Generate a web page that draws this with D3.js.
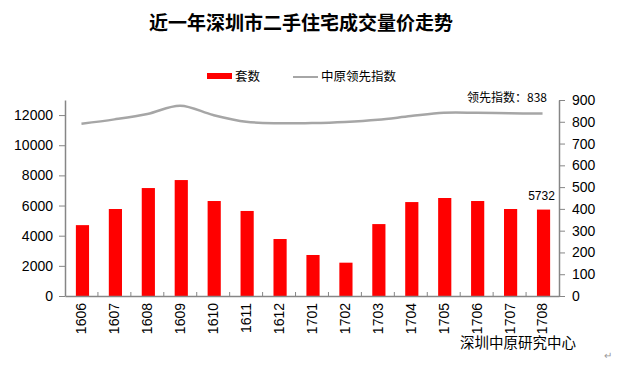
<!DOCTYPE html>
<html>
<head>
<meta charset="utf-8">
<script src="https://cdn.jsdelivr.net/npm/d3@7"></script>
<style>
    body { margin: 0; background: #fff; }
    svg { display: block; }
    .num { font-family: "Liberation Sans", Arial, sans-serif; }
    .cjk { font-family: "Noto Sans CJK SC", sans-serif; }
</style>
</head>
<body>
<div id="container"></div>
<script>
// 数据
const months = ['1606', '1607', '1608', '1609', '1610', '1611', '1612', '1701',
    '1702', '1703', '1704', '1705', '1706', '1707', '1708'];
const sales = [4700, 5770, 7160, 7690, 6300, 5640, 3780, 2720,
    2210, 4770, 6230, 6500, 6300, 5770, 5732];
const index = [791, 811, 836, 874, 831, 800, 793, 794,
    799, 809, 826, 841, 841, 839, 838];
const leftTicks = [0, 2000, 4000, 6000, 8000, 10000, 12000];
const rightTicks = [0, 100, 200, 300, 400, 500, 600, 700, 800, 900];

const width = 625;
const height = 373;
const margin = {left: 65, right: 66, top: 100, bottom: 77};
const axisColor = '#868686';
const baseY = height - margin.bottom;

const svg = d3.select('#container')
    .append('svg')
    .attr('width', width)
    .attr('height', height);

// 标题
svg.append('text')
    .attr('class', 'cjk')
    .attr('x', 301)
    .attr('y', 30)
    .attr('text-anchor', 'middle')
    .attr('font-size', 19)
    .attr('font-weight', 'bold')
    .attr('fill', '#000')
    .text('近一年深圳市二手住宅成交量价走势');

// 图例
svg.append('rect')
    .attr('x', 207).attr('y', 73)
    .attr('width', 25).attr('height', 6)
    .attr('fill', '#ff0000');
svg.append('text')
    .attr('class', 'cjk')
    .attr('x', 235).attr('y', 81)
    .attr('font-size', 12.5)
    .text('套数');
svg.append('line')
    .attr('x1', 293).attr('x2', 318)
    .attr('y1', 77).attr('y2', 77)
    .attr('stroke', '#a6a6a6')
    .attr('stroke-width', 2);
svg.append('text')
    .attr('class', 'cjk')
    .attr('x', 321).attr('y', 81)
    .attr('font-size', 12.5)
    .text('中原领先指数');

// 比例尺
const xScale = d3.scaleBand().domain(months).range([margin.left, width - margin.right]);
const yLeft = d3.scaleLinear().domain([0, 13000]).range([baseY, margin.top]);
const yRight = d3.scaleLinear().domain([0, 900]).range([baseY, margin.top]);

// 柱子
const barW = xScale.bandwidth() * 0.4;
svg.selectAll('.bar')
    .data(sales)
    .enter()
    .append('rect')
    .attr('class', 'bar')
    .attr('x', (d, i) => xScale(months[i]) + (xScale.bandwidth() - barW) / 2 + 1)
    .attr('y', d => yLeft(d))
    .attr('width', barW)
    .attr('height', d => baseY - yLeft(d))
    .attr('fill', '#ff0000');

// 折线
const line = d3.line()
    .x((d, i) => xScale(months[i]) + xScale.bandwidth() / 2)
    .y(d => yRight(d))
    .curve(d3.curveCatmullRom);
svg.append('path')
    .datum(index)
    .attr('d', line)
    .attr('fill', 'none')
    .attr('stroke', '#a6a6a6')
    .attr('stroke-width', 2.5);

// 左轴
const yAxisL = svg.append('g')
    .attr('transform', `translate(${margin.left},0)`)
    .call(d3.axisLeft(yLeft).tickValues(leftTicks).tickFormat(d3.format('d'))
        .tickSize(6).tickPadding(6).tickSizeOuter(0));
// 右轴
const yAxisR = svg.append('g')
    .attr('transform', `translate(${width - margin.right},0)`)
    .call(d3.axisRight(yRight).tickValues(rightTicks).tickFormat(d3.format('d'))
        .tickSize(6).tickPadding(7).tickSizeOuter(0));
// 底轴
const xAxisG = svg.append('g')
    .attr('transform', `translate(0,${baseY})`)
    .call(d3.axisBottom(xScale).tickSize(0).tickPadding(0));

[yAxisL, yAxisR, xAxisG].forEach(a => {
    a.attr('font-size', 14)
        .attr('font-family', '"Liberation Sans", Arial, sans-serif');
    a.select('.domain').attr('stroke', axisColor).attr('stroke-width', 1.5);
    a.selectAll('.tick line').attr('stroke', axisColor);
    a.selectAll('text').attr('fill', '#000');
});

xAxisG.selectAll('.tick text')
    .attr('transform', 'rotate(-90)')
    .attr('text-anchor', 'end')
    .attr('x', -7)
    .attr('y', 0)
    .attr('dy', '0.35em');

// 类别分隔刻度（朝上）
xAxisG.selectAll('.sep')
    .data(months.slice(1))
    .enter()
    .append('line')
    .attr('x1', d => xScale(d))
    .attr('x2', d => xScale(d))
    .attr('y1', 0)
    .attr('y2', -4)
    .attr('stroke', axisColor);

// 数据标注
const last = months.length - 1;
svg.append('text')
    .attr('class', 'num')
    .attr('x', xScale(months[last]) + xScale.bandwidth() / 2 - 1)
    .attr('y', yLeft(sales[last]) - 10)
    .attr('text-anchor', 'middle')
    .attr('font-size', 12)
    .text(sales[last]);

svg.append('text')
    .attr('class', 'cjk')
    .attr('x', 547)
    .attr('y', 102)
    .attr('text-anchor', 'end')
    .attr('font-size', 12)
    .text('领先指数：' + index[last]);

// 来源
svg.append('text')
    .attr('class', 'cjk')
    .attr('x', 460)
    .attr('y', 348)
    .attr('font-size', 14.5)
    .text('深圳中原研究中心');
svg.append('text')
    .attr('x', 604)
    .attr('y', 359)
    .attr('font-size', 10)
    .attr('fill', '#999')
    .text('↵');
</script>
</body>
</html>
